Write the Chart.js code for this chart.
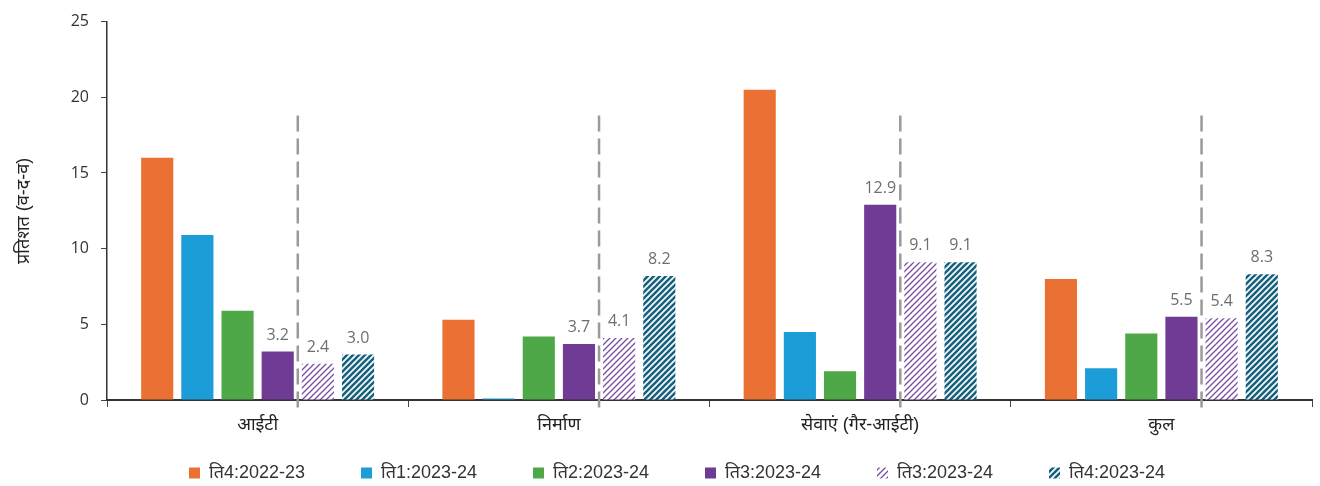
<!DOCTYPE html>
<html>
<head>
<meta charset="utf-8">
<script src="https://cdn.jsdelivr.net/npm/chart.js@4"></script>
<style>
  html, body { margin: 0; padding: 0; background: #fff; }
  #wrap { width: 1320px; height: 486px; }
</style>
</head>
<body>
<div id="wrap"><canvas id="c" width="1320" height="486"></canvas></div>
<script>
// Sector growth, year-on-year (%)
const categories = ['आईटी', 'निर्माण', 'सेवाएं (गैर-आईटी)', 'कुल'];
const seriesNames = ['ति4:2022-23', 'ति1:2023-24', 'ति2:2023-24', 'ति3:2023-24', 'ति3:2023-24', 'ति4:2023-24'];
const q4_2223 = [16.0, 5.3, 20.5, 8.0];
const q1_2324 = [10.9, 0.1, 4.5, 2.1];
const q2_2324 = [5.9, 4.2, 1.9, 4.4];
const q3_2324 = [3.2, 3.7, 12.9, 5.5];
const q3_2324_alt = [2.4, 4.1, 9.1, 5.4];
const q4_2324 = [3.0, 8.2, 9.1, 8.3];
const yTicks = [0, 5, 10, 15, 20, 25];
const labelledSeries = [3, 4, 5];
const dividerTopValue = 18.8;

function stripePattern(color, lineWidth, size) {
  const p = document.createElement('canvas');
  p.width = size; p.height = size;
  const g = p.getContext('2d');
  g.fillStyle = '#ffffff';
  g.fillRect(0, 0, size, size);
  g.strokeStyle = color;
  g.lineWidth = lineWidth;
  g.beginPath();
  g.moveTo(-1, size + 1); g.lineTo(size + 1, -1);
  g.moveTo(-1, 1); g.lineTo(1, -1);
  g.moveTo(size - 1, size + 1); g.lineTo(size + 1, size - 1);
  g.stroke();
  return g.createPattern(p, 'repeat');
}

const ctx = document.getElementById('c').getContext('2d');
const purpleHatch = stripePattern('#7a4ba3', 1.3, 6);
const tealHatch = stripePattern('#16627f', 2.6, 6);

const colors = ['#EA7133', '#1C9DD7', '#4EA847', '#6F3B94', purpleHatch, tealHatch];
const values = [q4_2223, q1_2324, q2_2324, q3_2324, q3_2324_alt, q4_2324];

const datasets = values.map((v, i) => ({
  label: seriesNames[i],
  data: v,
  backgroundColor: colors[i],
  borderWidth: 0,
  barPercentage: 0.8,
  categoryPercentage: 0.8
}));

const FONT = "'Liberation Sans', 'Noto Sans', sans-serif";
const NUMFONT = "'Open Sans', 'Noto Sans', sans-serif";
const LEGEND_GAP = 56;      // horizontal gap between legend entries
const LEGEND_SHIFT_X = 21;  // legend sits slightly right of centre
const LEGEND_ROW_Y = 464;   // top of the legend row

const overlay = {
  id: 'overlay',
  afterInit(chart) {
    // keep the legend row compact while spacing entries widely
    const lg = chart.legend;
    const fit = lg.fit.bind(lg);
    lg.fit = function () { fit(); this.height = 36; };
    const drawItems = lg._draw.bind(lg);
    lg._draw = function () {
      const c = chart.ctx;
      c.save();
      c.translate(LEGEND_SHIFT_X, LEGEND_ROW_Y - (this.top + LEGEND_GAP));
      drawItems();
      c.restore();
    };
  },
  afterDatasetsDraw(chart) {
    const c = chart.ctx;
    const y = chart.scales.y;
    // dividers between the third-quarter bars
    const m3 = chart.getDatasetMeta(3).data;
    const m4 = chart.getDatasetMeta(4).data;
    c.save();
    c.strokeStyle = '#9a9a9a';
    c.lineWidth = 2.5;
    c.setLineDash([16, 7]);
    for (let i = 0; i < categories.length; i++) {
      const a = m3[i], b = m4[i];
      const x = (a.x + a.width / 2 + b.x - b.width / 2) / 2;
      c.beginPath();
      c.moveTo(x, y.getPixelForValue(dividerTopValue));
      c.lineTo(x, y.getPixelForValue(0) + 8);
      c.stroke();
    }
    c.restore();
    // value labels
    c.save();
    c.fillStyle = '#6e6e6e';
    c.font = '16px ' + NUMFONT;
    c.textAlign = 'center';
    c.textBaseline = 'alphabetic';
    labelledSeries.forEach(si => {
      chart.getDatasetMeta(si).data.forEach((bar, i) => {
        c.fillText(values[si][i].toFixed(1), bar.x, bar.y - 12);
      });
    });
    c.restore();
  }
};

new Chart(ctx, {
  type: 'bar',
  data: { labels: categories, datasets },
  plugins: [overlay],
  options: {
    responsive: false,
    animation: false,
    layout: { padding: { left: 0, right: 8, top: 12, bottom: 0 } },
    plugins: {
      legend: {
        position: 'bottom',
        labels: {
          boxWidth: 11,
          boxHeight: 11,
          padding: LEGEND_GAP,
          color: '#333',
          font: { size: 18, family: FONT }
        }
      },
      tooltip: { enabled: false }
    },
    scales: {
      x: {
        grid: { drawOnChartArea: false, drawTicks: true, tickLength: 7, color: '#444', offset: true },
        border: { color: '#333', width: 2 },
        ticks: { color: '#222', font: { size: 18, family: FONT }, padding: 7 },
        afterFit(s) { s.height = 50; }
      },
      y: {
        min: 0, max: 25,
        afterBuildTicks(s) { s.ticks = yTicks.map(v => ({ value: v })); },
        grid: { drawOnChartArea: false, drawTicks: true, tickLength: 6, color: '#444' },
        border: { color: '#333', width: 1.5 },
        ticks: { color: '#333', font: { size: 16, family: NUMFONT }, padding: 12 },
        title: { display: true, text: 'प्रतिशत (व-द-व)', color: '#222', font: { size: 18, family: FONT }, padding: { top: 13, bottom: 0 } },
        afterFit(s) { s.width = 107; }
      }
    }
  }
});
</script>
</body>
</html>
